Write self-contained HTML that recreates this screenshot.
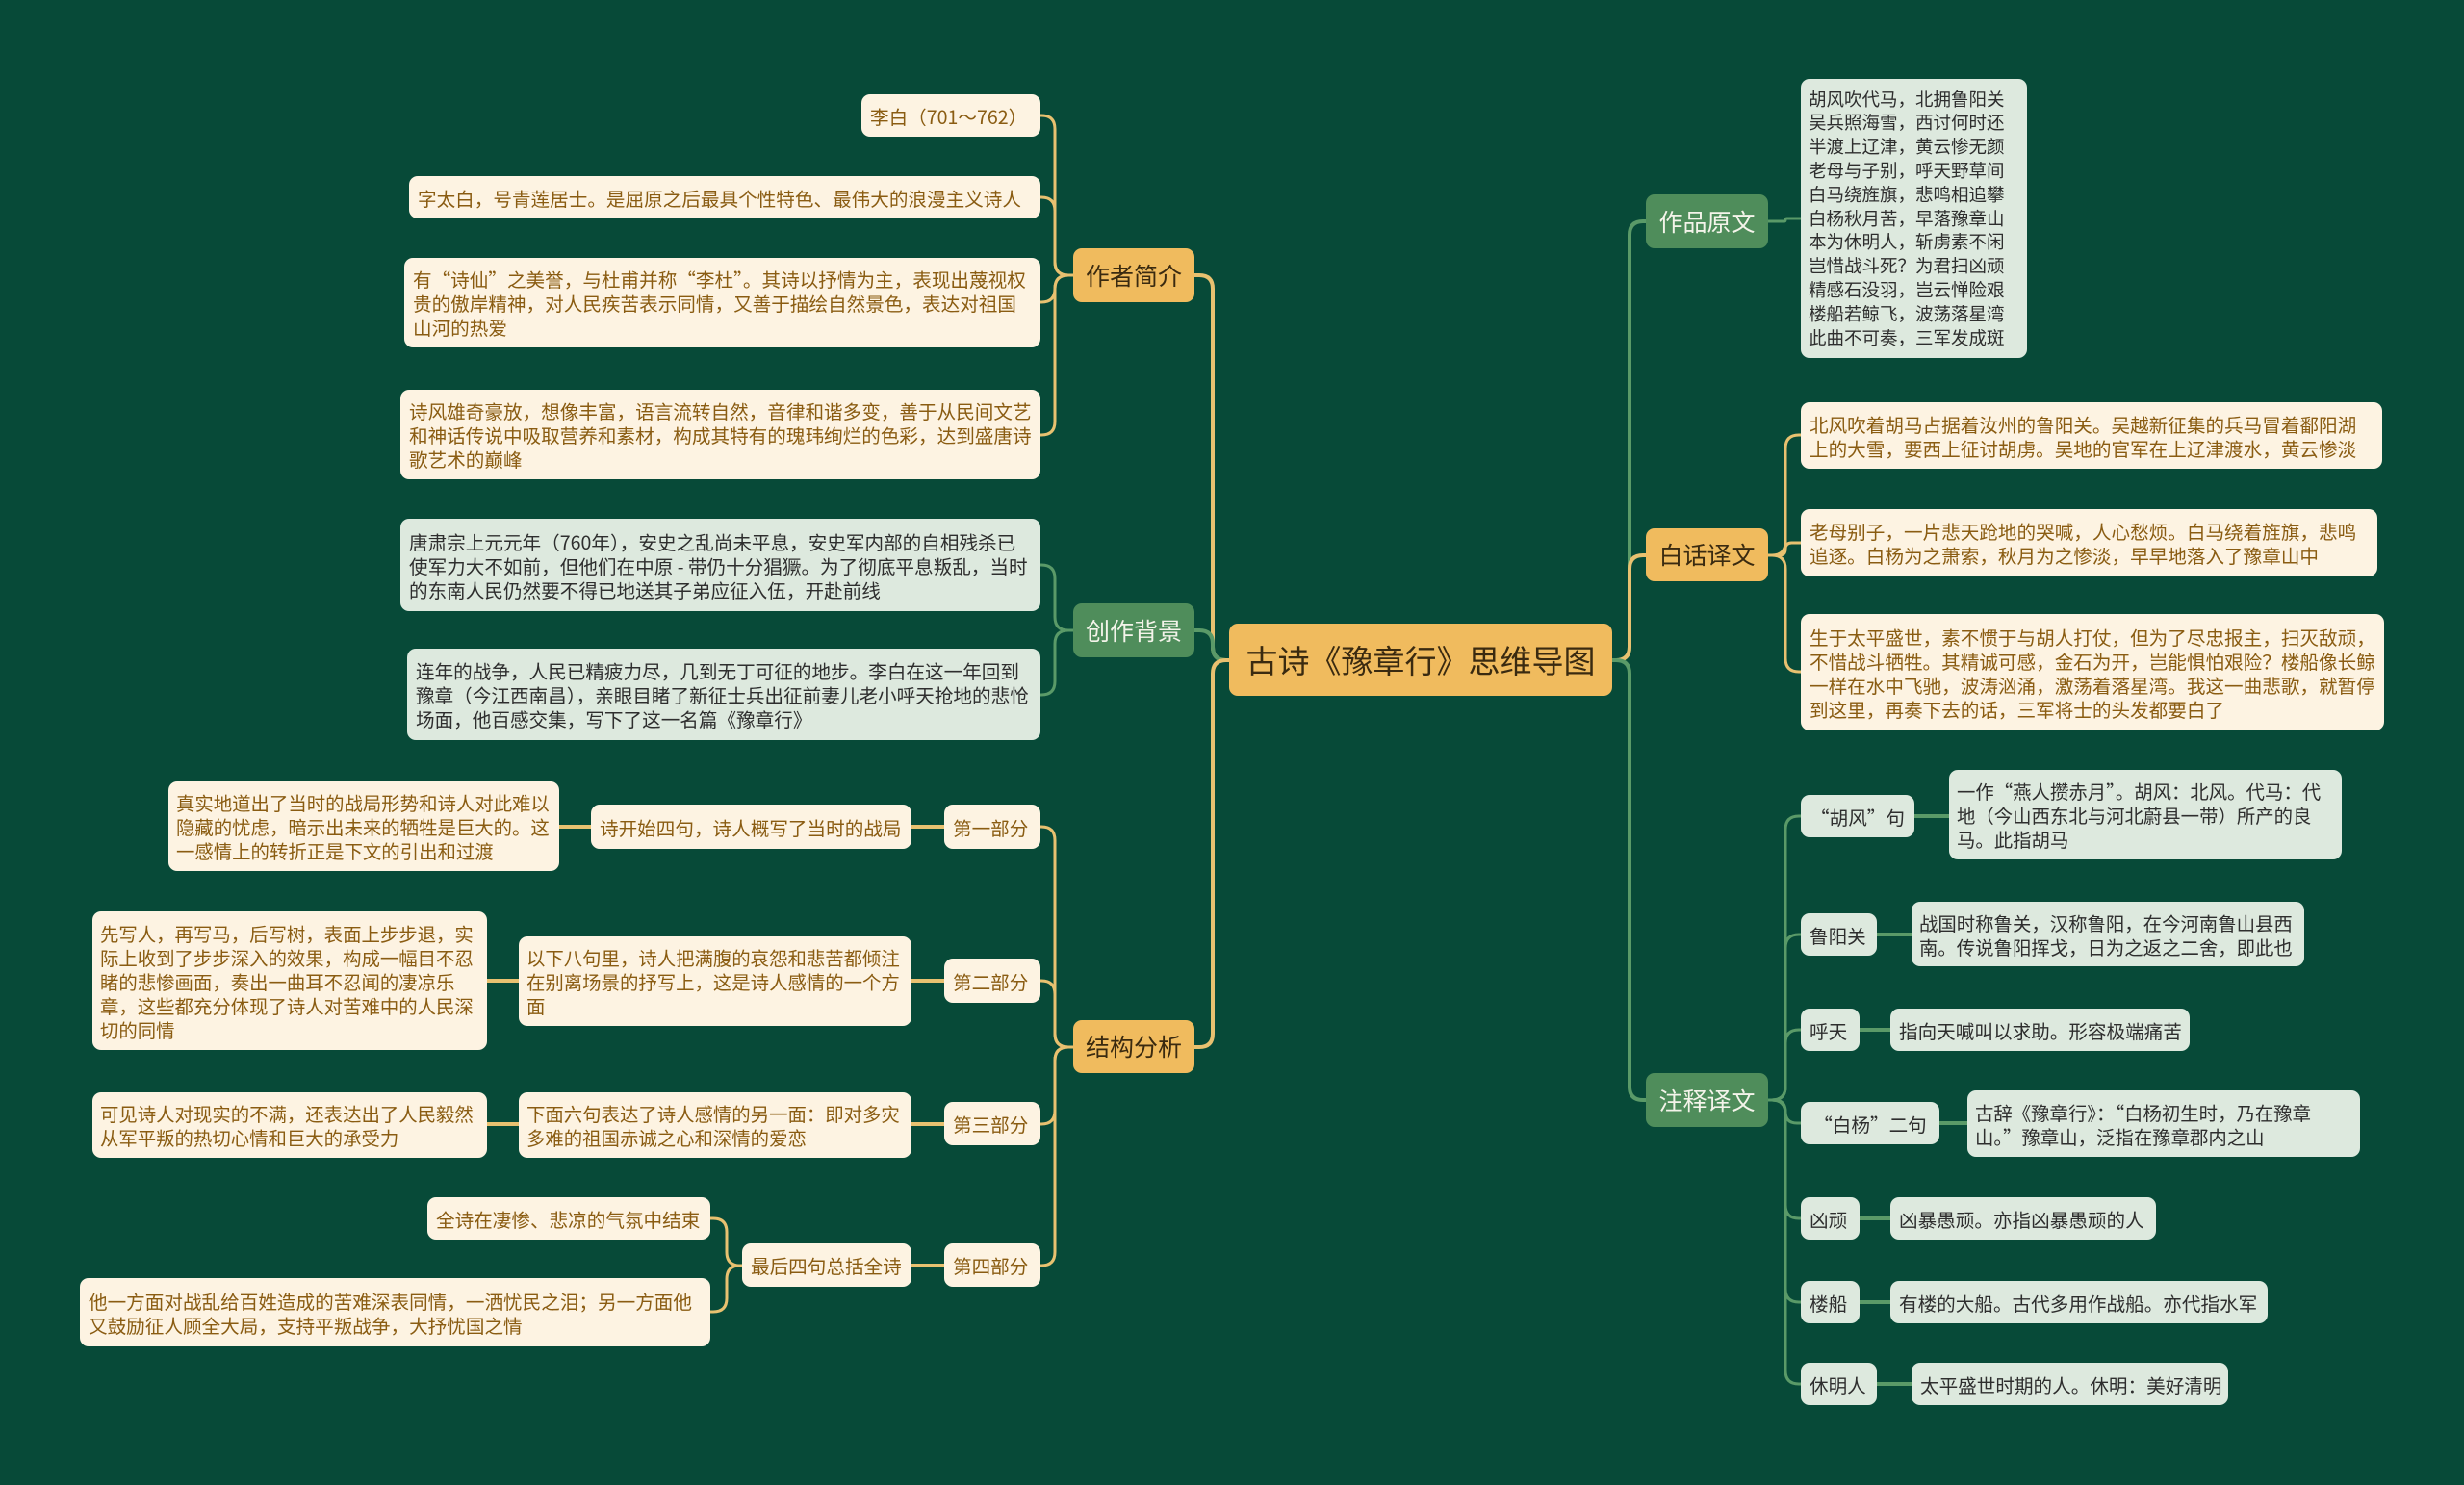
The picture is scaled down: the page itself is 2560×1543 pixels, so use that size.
<!DOCTYPE html>
<html><head><meta charset="utf-8">
<style>
html,body{margin:0;padding:0}
body{width:2560px;height:1543px;background:#074a38;position:relative;overflow:hidden;font-family:"Noto Sans CJK SC","Liberation Sans",sans-serif}
.b{position:absolute;box-sizing:border-box;border-radius:9px;display:flex;align-items:center;font-size:19.6px;line-height:25px;padding:0 9px}
.n{white-space:nowrap}
.t{padding:0 5px 0 8px;font-size:19.4px}
.c{background:#fdf3e2;color:#8a5c12}
.g{background:#dde9de;color:#2e2e2e}
.o1{background:#f0bb5e;color:#3a2a10;font-size:25px;justify-content:center;white-space:nowrap}
.g1{background:#4f8d5b;color:#f4f4ea;font-size:25px;justify-content:center;white-space:nowrap}
svg{position:absolute;left:0;top:0}
</style></head><body>
<svg id="s" width="2560" height="1543"></svg>

<div class="b o1" style="left:1277px;top:648px;width:398px;height:75px;font-size:33px;color:#3a2a10">古诗《豫章行》思维导图</div>

<div class="b o1" style="left:1115px;top:258px;width:126px;height:56px">作者简介</div>
<div class="b g1" style="left:1115px;top:627px;width:126px;height:56px">创作背景</div>
<div class="b o1" style="left:1115px;top:1060px;width:126px;height:55px">结构分析</div>
<div class="b g1" style="left:1710px;top:202px;width:127px;height:56px">作品原文</div>
<div class="b o1" style="left:1710px;top:549px;width:127px;height:55px">白话译文</div>
<div class="b g1" style="left:1710px;top:1115px;width:127px;height:56px">注释译文</div>

<div class="b c n" style="left:895px;top:98px;width:186px;height:44px">李白（701～762）</div>
<div class="b c n" style="left:425px;top:183px;width:656px;height:44px">字太白，号青莲居士。是屈原之后最具个性特色、最伟大的浪漫主义诗人</div>
<div class="b c" style="left:420px;top:268px;width:661px;height:93px">有“诗仙”之美誉，与杜甫并称“李杜”。其诗以抒情为主，表现出蔑视权贵的傲岸精神，对人民疾苦表示同情，又善于描绘自然景色，表达对祖国山河的热爱</div>
<div class="b c" style="left:416px;top:405px;width:665px;height:93px">诗风雄奇豪放，想像丰富，语言流转自然，音律和谐多变，善于从民间文艺和神话传说中吸取营养和素材，构成其特有的瑰玮绚烂的色彩，达到盛唐诗歌艺术的巅峰</div>
<div class="b g" style="left:416px;top:539px;width:665px;height:96px">唐肃宗上元元年（760年），安史之乱尚未平息，安史军内部的自相残杀已使军力大不如前，但他们在中原 - 带仍十分猖獗。为了彻底平息叛乱，当时的东南人民仍然要不得已地送其子弟应征入伍，开赴前线</div>
<div class="b g" style="left:423px;top:674px;width:658px;height:95px">连年的战争，人民已精疲力尽，几到无丁可征的地步。李白在这一年回到豫章（今江西南昌），亲眼目睹了新征士兵出征前妻儿老小呼天抢地的悲怆场面，他百感交集，写下了这一名篇《豫章行》</div>

<div class="b c n" style="left:981px;top:836px;width:100px;height:46px">第一部分</div>
<div class="b c n" style="left:981px;top:996px;width:100px;height:46px">第二部分</div>
<div class="b c n" style="left:981px;top:1145px;width:100px;height:45px">第三部分</div>
<div class="b c n" style="left:981px;top:1292px;width:100px;height:45px">第四部分</div>
<div class="b c n" style="left:614px;top:836px;width:333px;height:46px">诗开始四句，诗人概写了当时的战局</div>
<div class="b c t" style="left:175px;top:812px;width:406px;height:93px">真实地道出了当时的战局形势和诗人对此难以隐藏的忧虑，暗示出未来的牺牲是巨大的。这一感情上的转折正是下文的引出和过渡</div>
<div class="b c t" style="left:539px;top:973px;width:408px;height:93px">以下八句里，诗人把满腹的哀怨和悲苦都倾注在别离场景的抒写上，这是诗人感情的一个方面</div>
<div class="b c t" style="left:96px;top:947px;width:410px;height:144px">先写人，再写马，后写树，表面上步步退，实际上收到了步步深入的效果，构成一幅目不忍睹的悲惨画面，奏出一曲耳不忍闻的凄凉乐章，这些都充分体现了诗人对苦难中的人民深切的同情</div>
<div class="b c t" style="left:539px;top:1135px;width:408px;height:68px">下面六句表达了诗人感情的另一面：即对多灾多难的祖国赤诚之心和深情的爱恋</div>
<div class="b c t" style="left:96px;top:1135px;width:410px;height:68px">可见诗人对现实的不满，还表达出了人民毅然从军平叛的热切心情和巨大的承受力</div>
<div class="b c n" style="left:771px;top:1292px;width:176px;height:45px">最后四句总括全诗</div>
<div class="b c n" style="left:444px;top:1244px;width:294px;height:44px">全诗在凄惨、悲凉的气氛中结束</div>
<div class="b c" style="left:83px;top:1328px;width:655px;height:71px">他一方面对战乱给百姓造成的苦难深表同情，一洒忧民之泪；另一方面他又鼓励征人顾全大局，支持平叛战争，大抒忧国之情</div>

<div class="b g n" style="left:1871px;top:82px;width:235px;height:290px;line-height:24.8px;padding:0 8px;font-size:18.5px">胡风吹代马，北拥鲁阳关<br>吴兵照海雪，西讨何时还<br>半渡上辽津，黄云惨无颜<br>老母与子别，呼天野草间<br>白马绕旌旗，悲鸣相追攀<br>白杨秋月苦，早落豫章山<br>本为休明人，斩虏素不闲<br>岂惜战斗死？为君扫凶顽<br>精感石没羽，岂云惮险艰<br>楼船若鲸飞，波荡落星湾<br>此曲不可奏，三军发成斑</div>
<div class="b c" style="left:1871px;top:418px;width:604px;height:69px">北风吹着胡马占据着汝州的鲁阳关。吴越新征集的兵马冒着鄱阳湖上的大雪，要西上征讨胡虏。吴地的官军在上辽津渡水，黄云惨淡</div>
<div class="b c" style="left:1871px;top:529px;width:599px;height:70px">老母别子，一片悲天跄地的哭喊，人心愁烦。白马绕着旌旗，悲鸣追逐。白杨为之萧索，秋月为之惨淡，早早地落入了豫章山中</div>
<div class="b c" style="left:1871px;top:638px;width:606px;height:121px">生于太平盛世，素不惯于与胡人打仗，但为了尽忠报主，扫灭敌顽，不惜战斗牺牲。其精诚可感，金石为开，岂能惧怕艰险？楼船像长鲸一样在水中飞驰，波涛汹涌，激荡着落星湾。我这一曲悲歌，就暂停到这里，再奏下去的话，三军将士的头发都要白了</div>

<div class="b g n" style="left:1871px;top:826px;width:118px;height:44px;justify-content:center">“胡风”句</div>
<div class="b g t" style="left:2025px;top:800px;width:408px;height:93px">一作“燕人攒赤月”。胡风：北风。代马：代地（今山西东北与河北蔚县一带）所产的良马。此指胡马</div>
<div class="b g n" style="left:1871px;top:949px;width:79px;height:44px">鲁阳关</div>
<div class="b g t" style="left:1986px;top:937px;width:408px;height:67px">战国时称鲁关，汉称鲁阳，在今河南鲁山县西南。传说鲁阳挥戈，日为之返之二舍，即此也</div>
<div class="b g n" style="left:1871px;top:1048px;width:61px;height:44px">呼天</div>
<div class="b g n" style="left:1964px;top:1048px;width:311px;height:44px">指向天喊叫以求助。形容极端痛苦</div>
<div class="b g n" style="left:1871px;top:1145px;width:144px;height:44px;justify-content:center">“白杨”二句</div>
<div class="b g t" style="left:2044px;top:1133px;width:408px;height:69px">古辞《豫章行》：“白杨初生时，乃在豫章山。”豫章山，泛指在豫章郡内之山</div>
<div class="b g n" style="left:1871px;top:1244px;width:61px;height:44px">凶顽</div>
<div class="b g n" style="left:1964px;top:1244px;width:276px;height:44px">凶暴愚顽。亦指凶暴愚顽的人</div>
<div class="b g n" style="left:1871px;top:1331px;width:61px;height:44px">楼船</div>
<div class="b g n" style="left:1964px;top:1331px;width:392px;height:44px">有楼的大船。古代多用作战船。亦代指水军</div>
<div class="b g n" style="left:1871px;top:1416px;width:79px;height:44px">休明人</div>
<div class="b g n" style="left:1986px;top:1416px;width:329px;height:44px">太平盛世时期的人。休明：美好清明</div>

<script>
var O="#e8c170",G="#5a9a68",s=document.getElementById('s'),h='';
function L(px,py,bx,cx,cy,col,w){
  w=w||4;var d;
  if(Math.abs(cy-py)<2){d='M'+px+' '+py+' L'+cx+' '+cy;}
  else{var sg=cy>py?1:-1,dx=cx>bx?1:-1,r=Math.min(14,Math.abs(cy-py)/2);
  d='M'+px+' '+py+' L'+(bx-dx*r)+' '+py+' Q'+bx+' '+py+' '+bx+' '+(py+sg*r)+' L'+bx+' '+(cy-sg*r)+' Q'+bx+' '+cy+' '+(bx+dx*r)+' '+cy+' L'+cx+' '+cy;}
  h+='<path d="'+d+'" fill="none" stroke="'+col+'" stroke-width="'+w+'" stroke-linecap="round"/>';
}
L(1277,686,1260,1241,286,O);L(1277,686,1260,1241,655,G);L(1277,686,1260,1241,1088,O);
L(1675,686,1693,1710,230,G);L(1675,686,1693,1710,577,O);L(1675,686,1693,1710,1143,G);
[120,205,314,452].forEach(function(y){L(1115,286,1096,1081,y,O,3)});
[587,722].forEach(function(y){L(1115,655,1096,1081,y,G,3)});
[859,1019,1168,1315].forEach(function(y){L(1115,1088,1096,1081,y,O,3)});
L(981,859,960,947,859,O,4);L(614,859,600,581,859,O,4);
L(981,1019,960,947,1019,O,4);L(539,1019,520,506,1019,O,4);
L(981,1168,960,947,1168,O,4);L(539,1168,520,506,1168,O,4);
L(981,1315,960,947,1315,O,4);L(771,1315,755,738,1266,O,3);L(771,1315,755,738,1363,O,3);
L(1837,230,1855,1871,227,G,3);
[452,564,698].forEach(function(y){L(1837,577,1855,1871,y,O,3)});
[848,971,1070,1167,1266,1353,1438].forEach(function(y){L(1837,1143,1855,1871,y,G,3)});
L(1989,848,2005,2025,848,G,4);L(1950,971,1970,1986,971,G,4);L(1932,1070,1950,1964,1070,G,4);
L(2015,1167,2030,2044,1167,G,4);L(1932,1266,1950,1964,1266,G,4);L(1932,1353,1950,1964,1353,G,4);L(1950,1438,1970,1986,1438,G,4);
s.innerHTML=h;
</script>
</body></html>
